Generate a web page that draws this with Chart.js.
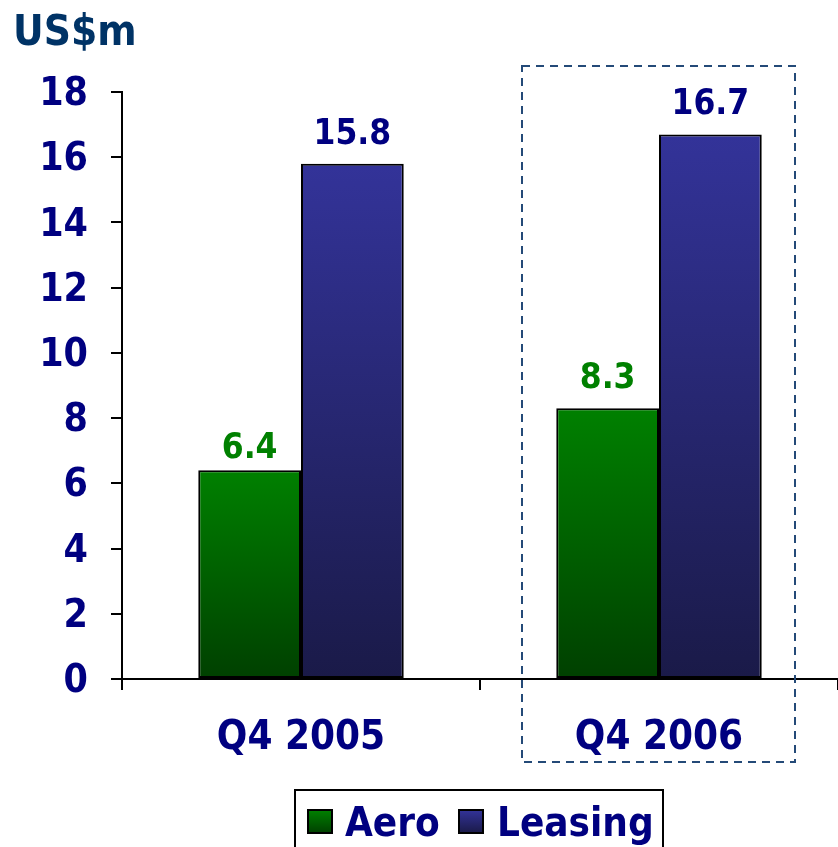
<!DOCTYPE html>
<html>
<head>
<meta charset="utf-8">
<script src="https://cdn.jsdelivr.net/npm/chart.js@4.4.1/dist/chart.umd.min.js"></script>
<style>
  html, body { margin: 0; padding: 0; background: #ffffff; }
  #wrap { width: 838px; height: 847px; }
</style>
</head>
<body>
<div id="wrap"><canvas id="c" width="838" height="847"></canvas></div>
<script>
// ---- data ----
const categories = ['Q4 2005', 'Q4 2006'];
const seriesNames = ['Aero', 'Leasing'];
const aeroValues = [6.4, 8.3];
const leasingValues = [15.8, 16.7];
const yTickMin = 0;
const yTickMax = 18;
const yTickStep = 2;
const unitLabel = 'US$m';

const FONT = '"DejaVu Sans Condensed", "DejaVu Sans", sans-serif';
const NAVY = '#000080';

const gradStops = {
  Aero: ['#008000', '#004000'],
  Leasing: ['#333399', '#1a1a48']
};
const labelColors = { Aero: '#008000', Leasing: NAVY };

function barGradient(name) {
  return function (ctx) {
    const chart = ctx.chart;
    if (!chart.chartArea || ctx.raw === undefined) return gradStops[name][0];
    const y = chart.scales.y;
    const top = y.getPixelForValue(ctx.raw);
    const bottom = y.getPixelForValue(0);
    const g = chart.ctx.createLinearGradient(0, top, 0, bottom);
    g.addColorStop(0, gradStops[name][0]);
    g.addColorStop(1, gradStops[name][1]);
    return g;
  };
}

const decorPlugin = {
  id: 'decor',
  afterDatasetsDraw(chart, args, opts) {
    const ctx = chart.ctx;
    ctx.save();
    ctx.textAlign = 'center';
    ctx.textBaseline = 'alphabetic';
    ctx.font = 'bold 35px ' + FONT;
    chart.data.datasets.forEach((ds, di) => {
      const meta = chart.getDatasetMeta(di);
      meta.data.forEach((bar, i) => {
        const gap = opts.gaps[di][i];
        ctx.fillStyle = labelColors[ds.label];
        ctx.fillText(ds.data[i].toFixed(1), bar.x, bar.y - gap);
      });
    });
    ctx.restore();
  },
  afterDraw(chart, args, opts) {
    const ctx = chart.ctx;
    ctx.save();
    // unit title
    ctx.font = 'bold 42px ' + FONT;
    ctx.fillStyle = '#003366';
    ctx.textAlign = 'left';
    ctx.textBaseline = 'alphabetic';
    ctx.fillText(unitLabel, 13, 45);

    // dashed highlight box around second category
    const x = chart.scales.x;
    const cx = x.getPixelForValue(1);
    ctx.strokeStyle = '#244a78';
    ctx.lineWidth = 2;
    ctx.setLineDash([8, 6]);
    ctx.strokeRect(cx - 137, 66, 273, 696);
    ctx.setLineDash([]);

    // legend
    ctx.lineWidth = 2;
    ctx.strokeStyle = '#000000';
    ctx.strokeRect(295, 790, 368, 70);
    const items = [
      { name: seriesNames[0], sx: 308, tx: 345 },
      { name: seriesNames[1], sx: 459, tx: 497 }
    ];
    ctx.font = 'bold 40px ' + FONT;
    ctx.textBaseline = 'alphabetic';
    items.forEach(it => {
      const g = ctx.createLinearGradient(0, 810, 0, 833);
      g.addColorStop(0, gradStops[it.name][0]);
      g.addColorStop(1, gradStops[it.name][1]);
      ctx.fillStyle = g;
      ctx.fillRect(it.sx, 810, 24, 23);
      ctx.strokeRect(it.sx, 810, 24, 23);
      ctx.fillStyle = NAVY;
      ctx.fillText(it.name, it.tx, 836);
    });
    ctx.restore();
  }
};

new Chart(document.getElementById('c'), {
  type: 'bar',
  data: {
    labels: categories,
    datasets: [
      {
        label: seriesNames[0],
        data: aeroValues,
        backgroundColor: barGradient('Aero'),
        borderColor: '#000000',
        borderWidth: 2,
        borderSkipped: false
      },
      {
        label: seriesNames[1],
        data: leasingValues,
        backgroundColor: barGradient('Leasing'),
        borderColor: '#000000',
        borderWidth: 2,
        borderSkipped: false
      }
    ]
  },
  options: {
    responsive: false,
    animation: false,
    devicePixelRatio: 1,
    layout: { padding: { top: 92, left: 0, right: 0, bottom: 0 } },
    datasets: { bar: { barPercentage: 1.0, categoryPercentage: 0.574 } },
    plugins: {
      legend: { display: false },
      tooltip: { enabled: false },
      title: { display: false },
      decor: { gaps: [[12, 20], [20, 20]] }
    },
    scales: {
      y: {
        min: yTickMin,
        max: yTickMax,
        ticks: {
          stepSize: yTickStep,
          color: NAVY,
          font: { family: FONT, size: 39, weight: 'bold' },
          padding: 23,
          labelOffset: 3
        },
        grid: {
          drawOnChartArea: false,
          drawTicks: true,
          tickLength: 11,
          color: '#000000',
          lineWidth: 2
        },
        border: { display: true, color: '#000000', width: 2 },
        afterFit(scale) { scale.width = 122; }
      },
      x: {
        ticks: {
          color: NAVY,
          font: { family: FONT, size: 40, weight: 'bold' },
          padding: 25
        },
        grid: {
          offset: true,
          drawOnChartArea: false,
          drawTicks: true,
          tickLength: 11,
          color: '#000000',
          lineWidth: 2
        },
        border: { display: true, color: '#000000', width: 2 },
        afterFit(scale) { scale.height = 168; }
      }
    }
  },
  plugins: [decorPlugin]
});
</script>
</body>
</html>
